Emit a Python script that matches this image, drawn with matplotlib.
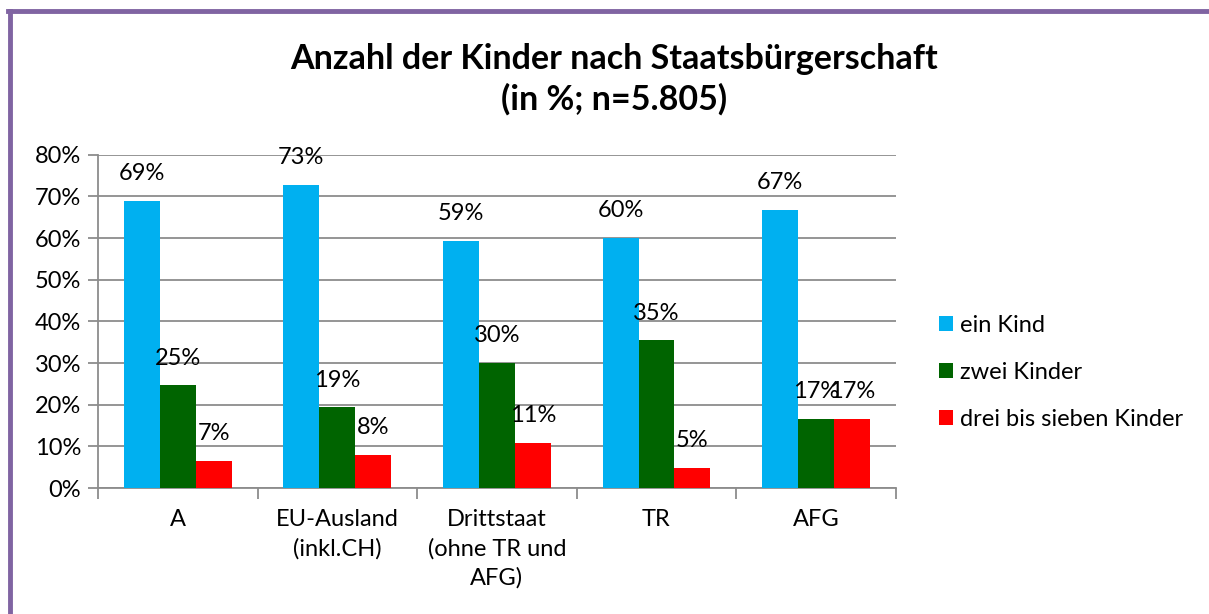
import matplotlib.pyplot as plt
import numpy as np
from matplotlib.lines import Line2D

plt.rcParams['font.family'] = ['Lato', 'DejaVu Sans']

categories = ['A', 'EU-Ausland\n(inkl.CH)', 'Drittstaat\n(ohne TR und\nAFG)', 'TR', 'AFG']
ein_kind = [68.9, 72.7, 59.3, 60.0, 66.7]
zwei_kinder = [24.7, 19.4, 30.1, 35.5, 16.7]
drei_bis_sieben = [6.6, 8.0, 10.9, 4.8, 16.7]
labels_ein = ['69%', '73%', '59%', '60%', '67%']
labels_zwei = ['25%', '19%', '30%', '35%', '17%']
labels_drei = ['7%', '8%', '11%', '5%', '17%']

series = [
    ('ein Kind', ein_kind, labels_ein, '#00B0F0'),
    ('zwei Kinder', zwei_kinder, labels_zwei, '#006400'),
    ('drei bis sieben Kinder', drei_bis_sieben, labels_drei, '#FF0000'),
]

fig = plt.figure(figsize=(12.09, 6.14), dpi=100)
ax = fig.add_axes([0.081, 0.205, 0.66, 0.543])

x = np.arange(len(categories))
w = 0.225
for i, (name, vals, labs, col) in enumerate(series):
    pos = x + (i - 1) * w
    ax.bar(pos, vals, width=w, color=col, label=name, zorder=3)
    for p, v, l in zip(pos, vals, labs):
        ax.annotate(l, (p, v), xytext=(0, 12), textcoords='offset points',
                    ha='center', va='bottom', fontsize=17, zorder=4)

ax.set_xlim(-0.5, len(categories) - 0.5)
ax.set_ylim(0, 80)
ax.set_yticks(np.arange(0, 81, 10))
ax.set_yticklabels([f'{v}%' for v in range(0, 81, 10)], fontsize=17)
ax.yaxis.grid(True, color='#8c8c8c', linewidth=1.3, zorder=0)
ax.set_xticks(np.arange(-0.5, len(categories), 1))
ax.set_xticklabels([])
ax.set_xticks(x, minor=True)
ax.set_xticklabels(categories, minor=True, fontsize=17, linespacing=1.45)
ax.tick_params(axis='x', which='minor', length=0, pad=15)
ax.tick_params(axis='x', which='major', length=8, color='#8c8c8c', width=1.3)
ax.tick_params(axis='y', length=7, color='#8c8c8c', width=1.3, pad=5)
for s in ['top', 'right']:
    ax.spines[s].set_visible(False)
for s in ['left', 'bottom']:
    ax.spines[s].set_color('#8c8c8c')
    ax.spines[s].set_linewidth(1.3)

fig.text(0.508, 0.871, 'Anzahl der Kinder nach Staatsbürgerschaft\n(in %; n=5.805)',
         ha='center', va='center', fontsize=24.5, fontweight='bold', linespacing=1.3)

leg = fig.legend(loc='center left', bbox_to_anchor=(0.759, 0.394), frameon=False,
                 fontsize=17, handlelength=0.6, handleheight=0.6, handletextpad=0.3,
                 labelspacing=1.1)

fig.add_artist(Line2D([0.0082, 0.0082], [0, 0.982], color='#8064A2', linewidth=3.5))
fig.add_artist(Line2D([0.0068, 1.0], [0.982, 0.982], color='#8064A2', linewidth=3.5))

fig.savefig('out.png', dpi=100)
